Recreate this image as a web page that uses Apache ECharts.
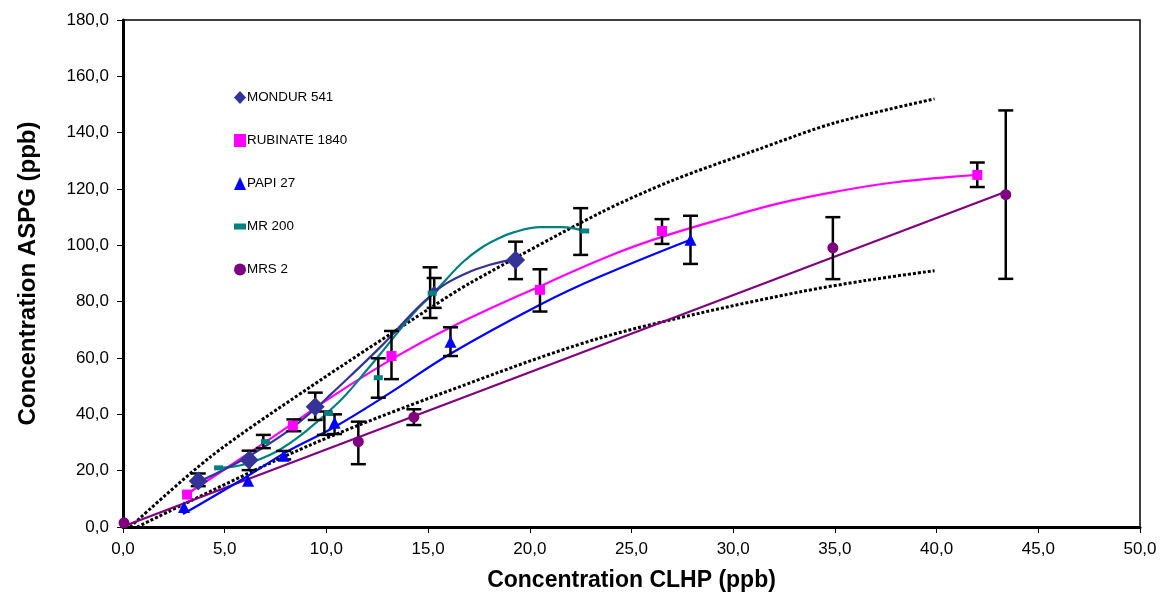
<!DOCTYPE html>
<html><head><meta charset="utf-8">
<script src="https://cdn.jsdelivr.net/npm/echarts@6/dist/echarts.min.js"></script>
<style>html,body{margin:0;padding:0;background:#fff}#c{width:1164px;height:594px}</style>
</head><body><div id="c"></div>
<script>
// ---- data ----
const seriesNames = ['MONDUR 541', 'RUBINATE 1840', 'PAPI 27', 'MR 200', 'MRS 2'];
const xAxisTitle = 'Concentration CLHP (ppb)';
const yAxisTitle = 'Concentration ASPG (ppb)';

const mondurPts   = [[3.7,16.3],[6.2,23.8],[9.45,42.7],[15.3,84.0],[19.3,94.8]];
const rubinatePts = [[3.15,11.5],[8.35,36.0],[13.2,60.7],[20.5,84.2],[26.5,105.1],[42.0,125.0]];
const papiPts     = [[3.0,7.1],[6.15,16.4],[7.9,25.3],[10.4,37.0],[16.1,65.8],[27.9,102.0]];
const mr200Pts    = [[4.7,21.0],[7.0,30.3],[10.1,40.4],[12.55,53.0],[15.2,83.0],[22.7,105.1]];
const mrs2Pts     = [[0.05,1.5],[11.57,30.3],[14.3,39.0],[34.9,99.1],[43.4,118.0]];

// fitted curves
const mondurFit   = [[3.7,16],[5,20.5],[6.2,25.2],[8,33.5],[9.5,42.3],[10.2,47],[12.6,63.5],[14.3,76.5],[15.1,82],[15.9,86.5],[17.1,90.8],[18.0,93],[18.7,94.3],[19.3,95]];
const rubinateFit = [[3.0,11],[5,20.5],[8.3,36.5],[10,45],[13.2,59.5],[16,70.5],[20.5,85.5],[24,96.5],[26.5,103],[30,110.5],[32.3,115],[35,119],[38,122.4],[42,125]];
const papiFit     = [[2.95,4.6],[6,17.5],[8,26.5],[10.4,35.5],[13,47],[16.1,61.5],[20.5,78.9],[23.45,88.9],[27.9,102]];
const mr200Fit    = [[4.7,21],[6,22.3],[7.55,26.8],[9,34],[10.7,45],[12,55.8],[12.6,61],[14.3,76],[15.2,82.5],[15.9,88],[16.7,94],[17.55,98.8],[18.4,102.2],[19.2,104.6],[20.5,106.5],[21.6,106.5],[22.7,105.1]];
const mrs2Fit     = [[0.2,0.7],[43.4,119]];
const upperBand   = [[0.35,0],[4.3,24.9],[9,48.7],[15.2,78.2],[17.06,86.6],[23.45,111.5],[27,123],[31.2,134],[35,143.5],[39.9,152]];
const lowerBand   = [[0.7,0],[9.2,29.1],[18.5,55],[23.45,67.1],[28.4,76],[33.3,83.5],[36.5,87.5],[39.9,91]];

// error bars: [x, low, high]
const errorBars = [
  [3.7,14.5,19],[6.2,20.2,27.1],[6.9,28,32.7],[7.9,24,27],[8.4,34,38.2],[9.45,38,47.7],
  [9.9,32.7,41],[10.4,33,40],[11.57,22.3,37.4],[12.55,45.9,59.9],[13.2,52.5,69.6],
  [14.3,36.2,41.8],[15.1,74.2,92.2],[15.3,77.8,88.4],[16.1,60.7,70.9],[19.3,88,101.3],
  [20.5,76.5,91.5],[22.5,96.6,113.2],[26.5,100.5,109.3],[27.9,93.4,110.5],[34.9,88,110],
  [42.0,120.7,129.4],[43.4,88.1,147.9]
];

const colors = ['#333399','#FF00FF','#0000FF','#008080','#800080'];

const fmt = v => v.toFixed(1).replace('.', ',');

function fitLine(data, color, dashed) {
  return {
    type: 'line', data: data, smooth: dashed ? 0.3 : 0.4, symbol: 'none', z: 2, silent: true,
    lineStyle: dashed ? {color: '#000', width: 3, type: [3, 2]} : {color: color, width: 2.2}
  };
}
function pts(name, symbol, size, color, data) {
  return {name: name, type: 'scatter', z: 4, symbol: symbol, symbolSize: size,
    itemStyle: {color: color, opacity: 1}, data: data};
}

const chart = echarts.init(document.getElementById('c'));
chart.setOption({
  animation: false,
  backgroundColor: '#fff',
  grid: {left: 123, right: 24, top: 20, bottom: 67, show: true, borderColor: '#000', borderWidth: 1.5, containLabel: false, outerBoundsMode: 'none'},
  legend: {
    orient: 'vertical', left: 229, top: 86, itemGap: 30, itemWidth: 12, itemHeight: 13,
    textStyle: {fontFamily: 'Liberation Sans, Arial', fontSize: 13.4, color: '#000', padding: [0,0,0,-4]},
    data: [
      {name: seriesNames[0], icon: 'diamond'},
      {name: seriesNames[1], icon: 'rect'},
      {name: seriesNames[2], icon: 'triangle'},
      {name: seriesNames[3], icon: 'path://M0,0h2v1h-2z'},
      {name: seriesNames[4], icon: 'circle'}
    ]
  },
  xAxis: {
    type: 'value', min: 0, max: 50, interval: 5,
    name: xAxisTitle, nameLocation: 'middle', nameGap: 42,
    nameTextStyle: {fontFamily: 'Liberation Sans, Arial', fontWeight: 'bold', fontSize: 23, color: '#000'},
    axisLine: {lineStyle: {color: '#000', width: 3}},
    axisTick: {show: true, inside: false, length: 6, lineStyle: {color: '#000', width: 1}},
    axisLabel: {formatter: fmt, fontFamily: 'Liberation Sans, Arial', fontSize: 17, color: '#000', margin: 14},
    splitLine: {show: false}
  },
  yAxis: {
    type: 'value', min: 0, max: 180, interval: 20,
    name: yAxisTitle, nameLocation: 'middle', nameGap: 83, nameRotate: 90,
    nameTextStyle: {fontFamily: 'Liberation Sans, Arial', fontWeight: 'bold', fontSize: 24, color: '#000'},
    axisLine: {lineStyle: {color: '#000', width: 3}},
    axisTick: {show: true, inside: false, length: 6, lineStyle: {color: '#000', width: 1}},
    axisLabel: {formatter: fmt, fontFamily: 'Liberation Sans, Arial', fontSize: 17, color: '#000', margin: 14},
    splitLine: {show: false}
  },
  series: [
    fitLine(upperBand, '#000', true),
    fitLine(lowerBand, '#000', true),
    fitLine(mrs2Fit, colors[4]),
    fitLine(papiFit, colors[2]),
    fitLine(rubinateFit, colors[1]),
    fitLine(mr200Fit, colors[3]),
    fitLine(mondurFit, colors[0]),
    {
      type: 'custom', z: 3, silent: true, data: errorBars, encode: {x: 0, y: [1, 2]},
      renderItem: function (params, api) {
        const x = api.value(0);
        const lo = api.coord([x, api.value(1)]);
        const hi = api.coord([x, api.value(2)]);
        const w = 7.5;
        const st = {stroke: '#000', lineWidth: 2.5};
        return {type: 'group', children: [
          {type: 'line', shape: {x1: lo[0], y1: lo[1], x2: hi[0], y2: hi[1]}, style: st},
          {type: 'line', shape: {x1: lo[0]-w, y1: lo[1], x2: lo[0]+w, y2: lo[1]}, style: st},
          {type: 'line', shape: {x1: hi[0]-w, y1: hi[1], x2: hi[0]+w, y2: hi[1]}, style: st}
        ]};
      }
    },
    pts(seriesNames[0], 'diamond', [19, 19], colors[0], mondurPts.map((p, i) => i === 3 ? {value: p, symbolSize: 9} : p)),
    pts(seriesNames[1], 'rect', 10, colors[1], rubinatePts),
    pts(seriesNames[2], 'triangle', 12, colors[2], papiPts),
    pts(seriesNames[3], 'rect', [9, 5], colors[3], mr200Pts),
    pts(seriesNames[4], 'circle', 11, colors[4], mrs2Pts)
  ]
});
</script></body></html>
